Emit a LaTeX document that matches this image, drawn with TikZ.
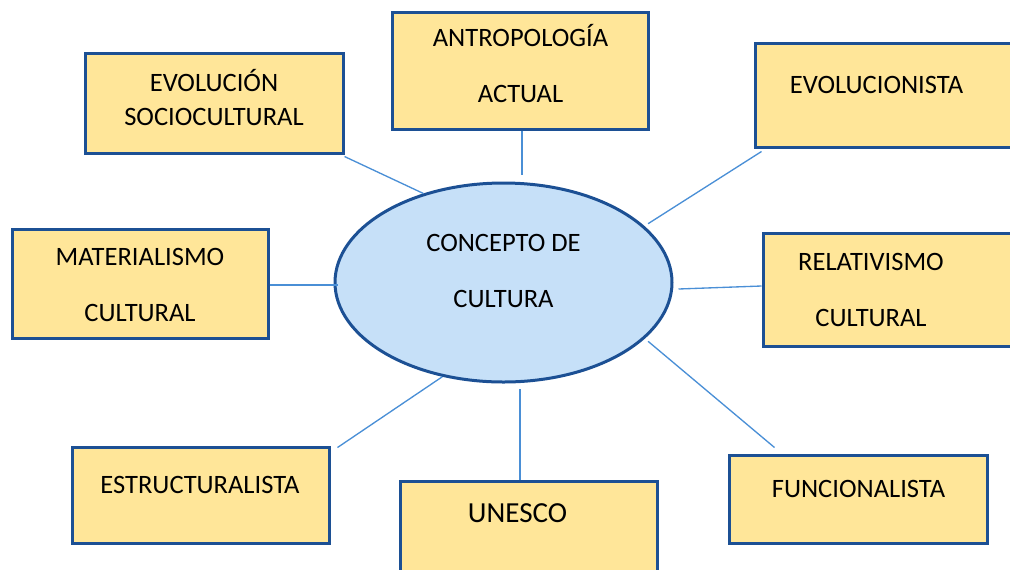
\documentclass[tikz,border=0pt]{standalone}
\usepackage{fontspec}
\setmainfont{Carlito}
\usetikzlibrary{shapes.geometric, calc}

\definecolor{boxfill}{HTML}{FFE699}
\definecolor{boxline}{HTML}{1C5094}
\definecolor{ovalfill}{HTML}{C6E0F8}
\definecolor{linkblue}{HTML}{4A8FD6}

\begin{document}
\begin{tikzpicture}[
      x=0.75pt, y=-0.75pt,
      box/.style 2 args={
        rectangle, draw=boxline, fill=boxfill, line width=2.25pt,
        minimum width=#1*0.75pt, minimum height=#2*0.75pt, inner sep=0pt
      },
      oval/.style={
        ellipse, draw=boxline, fill=ovalfill, line width=2.25pt,
        minimum width=252.75pt, minimum height=149.25pt, inner sep=0pt
      },
      txt/.style={
        anchor=base, inner sep=0pt, align=center,
        font=\fontsize{19.9}{41.5}\selectfont
      },
      link/.style={
        draw=linkblue, line width=1pt
      }
    ]
    \useasboundingbox (0,0) rectangle (1010,569);

    % --- Central oval ---
    \node[oval] (concept) at (503.5,282.5) {};
    \node[txt] (conceptT) at (503.5,307) {CONCEPTO DE\\CULTURA};

    % --- Outer boxes ---
    \node[box={258}{100}] (soc)    at (214,103)   {};
    \node[box={256}{117}] (antro)  at (520,70.5)  {};
    \node[box={258}{104}] (evol)   at (884,95)    {};
    \node[box={256}{109}] (mat)    at (140,283.5) {};
    \node[box={258}{113}] (rel)    at (892,289.5) {};
    \node[box={257}{96}]  (estr)   at (200.5,495) {};
    \node[box={257}{96}]  (unesco) at (528.5,529) {};
    \node[box={258}{88}]  (func)   at (858,499)   {};

    % --- Box texts (base = last line) ---
    \node[txt, font=\fontsize{19.9}{25.5}\selectfont] (socT) at (214,125) {EVOLUCIÓN\\SOCIOCULTURAL};
    \node[txt] (antroT)  at (520.5,102) {ANTROPOLOGÍA\\ACTUAL};
    \node[txt] (evolT)   at (876.5,93)  {EVOLUCIONISTA};
    \node[txt] (matT)    at (140,321)   {MATERIALISMO\\CULTURAL};
    \node[txt] (relT)    at (871,326)   {RELATIVISMO\\CULTURAL};
    \node[txt] (estrT)   at (200,493)   {ESTRUCTURALISTA};
    \node[txt, font=\fontsize{21.8}{26}\selectfont] (unescoT) at (517.5,522) {UNESCO};
    \node[txt] (funcT)   at (858.5,497) {FUNCIONALISTA};

    % --- Connectors ---
    \draw[link] ([shift={(0,2)}]soc.south east) -- (concept.132);
    \draw[link, shorten >=5pt] ([shift={(2,0)}]antro.south) -- ([shift={(2,0)}]antro.south |- concept.north);
    \draw[link] ([shift={(8,3)}]evol.south west) -- ([shift={(4,-2)}]concept.22);
    \draw[link] ([shift={(0,1.5)}]mat.east) -- ([shift={(4,2.5)}]concept.west);
    \draw[link] ([shift={(5,6.5)}]concept.east) -- ([shift={(0,-3.5)}]rel.west);
    \draw[link] ([shift={(7,2)}]estr.north east) -- (concept.237);
    \draw[link, shorten >=4pt] ([shift={(-8.5,0)}]unesco.north) -- ([shift={(-8.5,0)}]unesco.north |- concept.south);
    \draw[link] ([shift={(4,2)}]concept.-22) -- ([shift={(47,-6)}]func.north west);

  \end{tikzpicture}
\end{document}
